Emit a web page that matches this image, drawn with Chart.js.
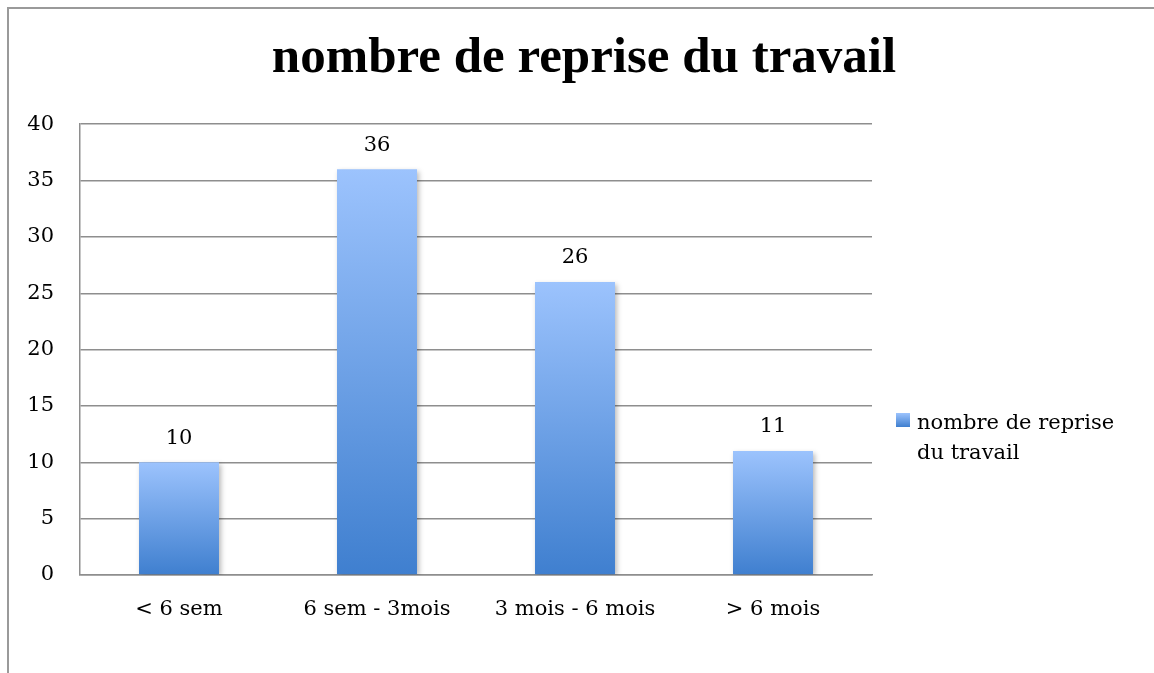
<!DOCTYPE html>
<html>
<head>
<meta charset="utf-8">
<title>nombre de reprise du travail</title>
<script src="https://cdn.jsdelivr.net/npm/chart.js@4"></script>
<style>
	body { margin: 0; background: #fff; }
	#wrap { position: relative; width: 1154px; height: 673px; overflow: hidden; }
	#frame { position: absolute; left: 7px; top: 7px; width: 1300px; height: 800px; border: 2px solid #9a9a9a; box-sizing: border-box; }
	#chart { position: absolute; left: 0; top: 0; }
	#legend { position: absolute; left: 896px; top: 407px; font-family: "DejaVu Serif", serif; font-size: 21px; line-height: 30px; color: #000; }
	#legend .box { position: absolute; left: 0; top: 6px; width: 14px; height: 14px; background: linear-gradient(#9cc3fd, #3f7fcf); }
	#legend .txt { margin-left: 21px; width: 220px; }
</style>
</head>
<body>
<div id="wrap">
	<div id="frame"></div>
	<canvas id="chart" width="1154" height="673"></canvas>
	<div id="legend"><div class="box"></div><div class="txt" id="legend-text"></div></div>
</div>
<script>
// data
const chartTitle = "nombre de reprise du travail";
const seriesName = "nombre de reprise du travail";
const categories = ["< 6 sem", "6 sem - 3mois", "3 mois - 6 mois", "> 6 mois"];
const reprises = [10, 36, 26, 11];
const yTicks = [0, 5, 10, 15, 20, 25, 30, 35, 40];

const textFont = "'DejaVu Serif', serif";

// vertical gradient per bar, from the bar top to the zero line
function barGradient(context) {
	const chart = context.chart;
	const yScale = chart.scales.y;
	if (!yScale || context.dataIndex === undefined) return "#6a9ee8";
	const top = yScale.getPixelForValue(reprises[context.dataIndex]);
	const base = yScale.getPixelForValue(0);
	if (!isFinite(top) || !isFinite(base) || top === base) return "#6a9ee8";
	const g = chart.ctx.createLinearGradient(0, top, 0, base);
	g.addColorStop(0, "#9cc3fd");
	g.addColorStop(1, "#3f7fcf");
	return g;
}

// soft shadow behind the bars
const barShadow = {
	id: "barShadow",
	beforeDatasetsDraw(chart) {
		const ctx = chart.ctx;
		ctx.save();
		ctx.shadowColor = "rgba(0,0,0,0.28)";
		ctx.shadowBlur = 5;
		ctx.shadowOffsetX = 2;
		ctx.shadowOffsetY = 2;
	},
	afterDatasetsDraw(chart) {
		chart.ctx.restore();
	}
};

// value above each bar
const valueLabels = {
	id: "valueLabels",
	afterDatasetsDraw(chart) {
		const ctx = chart.ctx;
		const meta = chart.getDatasetMeta(0);
		ctx.save();
		ctx.font = "21px " + textFont;
		ctx.fillStyle = "#000";
		ctx.textAlign = "center";
		ctx.textBaseline = "middle";
		meta.data.forEach((bar, i) => {
			ctx.fillText(String(reprises[i]), bar.x, bar.y - 24);
		});
		ctx.restore();
	}
};

document.getElementById("legend-text").textContent = seriesName;

new Chart(document.getElementById("chart"), {
	type: "bar",
	data: {
		labels: categories,
		datasets: [{
			label: seriesName,
			data: reprises,
			backgroundColor: barGradient,
			borderWidth: 0,
			categoryPercentage: 1,
			barPercentage: 0.404
		}]
	},
	options: {
		responsive: false,
		animation: false,
		layout: { padding: { left: 14, right: 0, top: 0, bottom: 0 } },
		plugins: {
			legend: { display: false },
			tooltip: { enabled: false },
			title: {
				display: true,
				text: chartTitle,
				color: "#000",
				font: { family: "'Liberation Serif', serif", size: 51, weight: "bold", lineHeight: 1.2 },
				padding: { top: 28, bottom: 35 }
			}
		},
		scales: {
			x: {
				grid: { display: false, drawTicks: false },
				border: { display: true, color: "#8e8e8e", width: 1.5 },
				ticks: { color: "#000", font: { family: textFont, size: 21 }, padding: 22, maxRotation: 0 },
				afterFit(scale) { scale.height = 98; }
			},
			y: {
				min: yTicks[0],
				max: yTicks[yTicks.length - 1],
				afterBuildTicks(scale) { scale.ticks = yTicks.map(v => ({ value: v })); },
				grid: { color: "#8e8e8e", lineWidth: 1.5, drawTicks: false },
				border: { display: true, color: "#8e8e8e", width: 1.5 },
				ticks: { color: "#000", font: { family: textFont, size: 21 }, padding: 26 },
				afterFit(scale) { scale.width = 66; }
			},
			// empty axis that keeps the legend space on the right
			side: {
				position: "right",
				min: 0,
				max: 1,
				grid: { display: false, drawTicks: false },
				border: { display: false },
				ticks: { display: false },
				afterFit(scale) { scale.width = 282; }
			}
		}
	},
	plugins: [barShadow, valueLabels]
});
</script>
</body>
</html>
